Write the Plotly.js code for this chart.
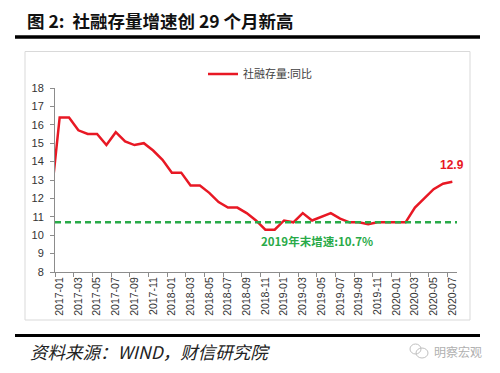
<!DOCTYPE html>
<html><head><meta charset="utf-8">
<script src="https://cdn.plot.ly/plotly-3.0.1.min.js"></script>
<style>html,body{margin:0;padding:0;background:#fff}#chart{width:500px;height:373px}</style>
</head><body><div id="chart"></div>
<script>
// ---- data ----
const months = ["2016-12",
  "2017-01","2017-02","2017-03","2017-04","2017-05","2017-06","2017-07","2017-08","2017-09","2017-10","2017-11","2017-12",
  "2018-01","2018-02","2018-03","2018-04","2018-05","2018-06","2018-07","2018-08","2018-09","2018-10","2018-11","2018-12",
  "2019-01","2019-02","2019-03","2019-04","2019-05","2019-06","2019-07","2019-08","2019-09","2019-10","2019-11","2019-12",
  "2020-01","2020-02","2020-03","2020-04","2020-05","2020-06","2020-07"];
const tsfYoY = [11.6,
  16.4,16.4,15.7,15.5,15.5,14.9,15.6,15.1,14.9,15.0,14.6,14.1,
  13.4,13.4,12.7,12.7,12.3,11.8,11.5,11.5,11.2,10.8,10.3,10.3,
  10.8,10.7,11.2,10.8,11.0,11.2,10.9,10.7,10.7,10.6,10.7,10.7,
  10.7,10.7,11.5,12.0,12.5,12.8,12.9];
const yearEnd2019Rate = 10.7;
const yTicks = [8,9,10,11,12,13,14,15,16,17,18];
const seriesName = "社融存量:同比";
const lastLabel = "12.9";

// ---- derived ----
const xIdx = months.map((m, i) => i - 1);          // 2017-01 -> 0
const xRange = [-0.5, months.length - 1.5];
const labelIdx = xIdx.filter(i => i >= 0 && i % 2 === 0);
const labelText = labelIdx.map(i => months[i + 1]);
const boundaryTicks = [];
for (let b = xRange[0]; b < xRange[1]; b += 2) boundaryTicks.push(b);

// plot area geometry helpers (pixels -> paper)
const L = 55, R = 43, T = 88, B = 101, W = 500, H = 373;
const PW = W - L - R, PH = H - T - B;
const px = x => (x - L) / PW;
const py = y => (H - B - y) / PH;

const red = "rgb(232,24,36)";
const green = "rgb(40,170,72)";
const axisCol = "#8c8c8c";

const traces = [
  {x: xIdx, y: tsfYoY, type: "scatter", mode: "lines", name: seriesName,
   line: {color: red, width: 2.5}, hoverinfo: "x+y"},
  {x: xRange, y: [yearEnd2019Rate, yearEnd2019Rate], type: "scatter", mode: "lines",
   line: {color: green, width: 2.5, dash: "6px,4px"}, showlegend: false, hoverinfo: "skip", cliponaxis: false},
  {x: [xRange[0]], y: [yTicks[0]], xaxis: "x2", yaxis: "y", type: "scatter", mode: "markers",
   marker: {opacity: 0}, showlegend: false, hoverinfo: "skip"}
];

const layout = {
  width: W, height: H,
  margin: {l: L, r: R, t: T, b: B},
  paper_bgcolor: "#fff", plot_bgcolor: "#fff",
  font: {family: "Liberation Sans, Arial, Noto Sans CJK SC", color: "#333"},
  title: {text: "<b>图 2:  社融存量增速创 29 个月新高</b>",
    xref: "container", yref: "container", x: 27 / W, xanchor: "left", y: 1 - 22 / H, yanchor: "middle",
    font: {family: "Noto Sans CJK SC", size: 17.5, color: "#111"}},
  xaxis: {range: xRange, tickmode: "array", tickvals: labelIdx, ticktext: labelText, tickangle: -90,
    ticks: "", showline: true, linecolor: axisCol, linewidth: 1, showgrid: false, zeroline: false,
    tickfont: {size: 10.5, color: "#333", family: "Liberation Sans"}, fixedrange: true},
  xaxis2: {range: xRange, overlaying: "x", anchor: "y", side: "bottom", tickmode: "array", tickvals: boundaryTicks,
    ticks: "outside", ticklen: 4, tickcolor: axisCol, tickwidth: 1, showticklabels: false,
    showline: false, showgrid: false, zeroline: false},
  yaxis: {range: [yTicks[0], yTicks[yTicks.length - 1]], tickmode: "array", tickvals: yTicks,
    ticks: "outside", ticklen: 4, tickcolor: axisCol, showline: true, linecolor: axisCol, linewidth: 1,
    showgrid: false, zeroline: false, ticklabelstandoff: 4,
    tickfont: {size: 11, color: "#333", family: "Liberation Sans"}},
  showlegend: true,
  legend: {orientation: "h", x: px(203), xanchor: "left", y: py(74), yanchor: "middle",
    bgcolor: "rgba(0,0,0,0)", font: {size: 11, color: "#404040", family: "Noto Sans CJK SC"}},
  annotations: [
    {x: xIdx[xIdx.length - 1], y: tsfYoY[tsfYoY.length - 1], xref: "x", yref: "y", text: "<b>" + lastLabel + "</b>",
     showarrow: false, yshift: 17, font: {size: 12, color: red, family: "Liberation Sans"}},
    {x: px(375), y: py(251), xref: "paper", yref: "paper", text: "<b>2019年末增速:" + yearEnd2019Rate + "%</b>",
     showarrow: false, font: {size: 11.5, color: green, family: "Noto Sans CJK SC"}},
    {x: px(28), y: py(351), xref: "paper", yref: "paper", xanchor: "left", yanchor: "middle",
     text: "<i>资料来源：WIND，财信研究院</i>", showarrow: false,
     font: {size: 17.5, color: "#222", family: "Noto Sans CJK SC"}},
    {x: px(484), y: py(351), xref: "paper", yref: "paper", xanchor: "right", yanchor: "middle",
     text: "明察宏观", showarrow: false, font: {size: 12, color: "#b0b0b0", family: "Noto Sans CJK SC"}}
  ],
  shapes: [
    {type: "line", xref: "paper", yref: "paper", x0: px(15), x1: px(480), y0: py(37), y1: py(37),
     line: {color: "#000", width: 3.5}},
    {type: "line", xref: "paper", yref: "paper", x0: px(15), x1: px(480), y0: py(335.5), y1: py(335.5),
     line: {color: "#000", width: 3}},
    {type: "rect", xref: "paper", yref: "paper", x0: px(25), x1: px(470), y0: py(51.5), y1: py(320),
     line: {color: "#d9d9d9", width: 1}, layer: "below"},
    {type: "circle", xref: "paper", yref: "paper", x0: px(410), x1: px(421), y0: py(344), y1: py(354),
     line: {color: "#c0c0c0", width: 1}},
    {type: "circle", xref: "paper", yref: "paper", x0: px(416), x1: px(428), y0: py(348), y1: py(358),
     line: {color: "#c0c0c0", width: 1}}
  ]
};

Plotly.newPlot("chart", traces, layout, {displayModeBar: false, staticPlot: true});
</script>
</body></html>
